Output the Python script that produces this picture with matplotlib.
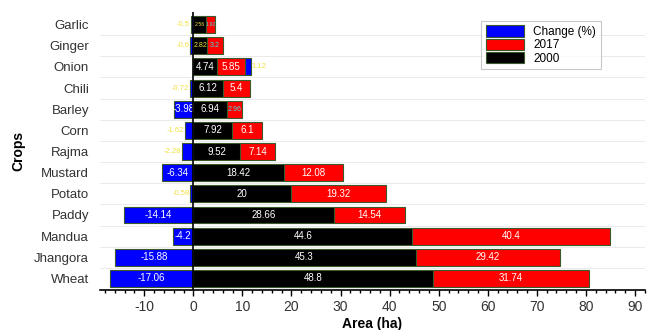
import numpy as np
import matplotlib
matplotlib.use("Agg")
from matplotlib import pyplot as plt
from matplotlib.ticker import MultipleLocator

plt.rcParams['font.family'] = ['Liberation Sans', 'DejaVu Sans']
plt.rcParams['axes.unicode_minus'] = False

crops = ["Wheat", "Jhangora", "Mandua", "Paddy", "Potato", "Mustard", "Rajma",
         "Corn", "Barley", "Chili", "Onion", "Ginger", "Garlic"]
change = [-17.06, -15.88, -4.2, -14.14, -0.58, -6.34, -2.28,
          -1.62, -3.98, -0.72, 1.12, -0.6, -0.5]
a2000 = [48.8, 45.3, 44.6, 28.66, 20, 18.42, 9.52,
         7.92, 6.94, 6.12, 4.74, 2.82, 2.56]
a2017 = [31.74, 29.42, 40.4, 14.54, 19.32, 12.08, 7.14,
         6.1, 2.96, 5.4, 5.85, 3.2, 1.92]

y = np.arange(len(crops))
change = np.array(change)
a2000 = np.array(a2000)
a2017 = np.array(a2017)

fig = plt.figure(figsize=(6.5, 3.3), dpi=100)
ax = fig.add_axes([0.154, 0.121, 0.838, 0.843])

h = 0.8
edge = "#3a5a2a"
# negative change goes left from 0, positive change sits after the 2017 part
chg_left = np.where(change < 0, change, a2000 + a2017)
chg_w = np.abs(change)
b_chg = ax.barh(y, chg_w, left=chg_left, height=h, color="#0000ff", edgecolor=edge, lw=0.8, label="Change (%)")
b17 = ax.barh(y, a2017, left=a2000, height=h, color="#ff0000", edgecolor=edge, lw=0.8, label="2017")
b00 = ax.barh(y, a2000, height=h, color="black", edgecolor=edge, lw=0.8, label="2000")

fs = 7
def lab_fs(w):
    # shrink labels on narrow bars
    if w > 3.5:
        return fs
    if w > 2.7:
        return 5
    return 3.8

for i in range(len(crops)):
    # change labels
    c = change[i]
    if abs(c) > 3:
        ax.text(chg_left[i] + chg_w[i] / 2, y[i], "%g" % c, color="white", fontsize=lab_fs(chg_w[i]), ha="center", va="center")
    elif c < 0:
        ax.text(chg_left[i] - 0.2, y[i], "%g" % c, color="#f0e040", fontsize=5.5, ha="right", va="center")
    else:
        ax.text(chg_left[i] + chg_w[i] + 0.2, y[i], "%g" % c, color="#f0e040", fontsize=5.5, ha="left", va="center")
    # 2000 labels
    col = "white" if a2000[i] > 4 else "#f0e040"
    ax.text(a2000[i] / 2, y[i], "%g" % a2000[i], color=col, fontsize=lab_fs(a2000[i]), ha="center", va="center")
    # 2017 labels
    col = "white" if a2017[i] > 3.5 else "#40e0e0"
    ax.text(a2000[i] + a2017[i] / 2, y[i], "%g" % a2017[i], color=col, fontsize=lab_fs(a2017[i]), ha="center", va="center")

ax.axvline(0, color="black", lw=1.2, zorder=5)

ax.set_xlim(-19, 92)
ax.set_ylim(-0.55, 12.6)
ax.set_yticks(y)
ax.set_yticklabels(crops, fontsize=9.5, color="#333333")
ax.tick_params(axis="y", length=0, pad=8)
ax.xaxis.set_major_locator(MultipleLocator(10))
ax.xaxis.set_minor_locator(MultipleLocator(2))
ax.tick_params(axis="x", which="major", length=4, width=1, labelsize=10, colors="black", labelcolor="#333333")
ax.tick_params(axis="x", which="minor", length=2.5, width=1)

for s in ["top", "right", "left"]:
    ax.spines[s].set_visible(False)
ax.spines["bottom"].set_linewidth(1.2)

for yy in y[:-1] + 0.5:
    ax.axhline(yy, color="#e6e6e6", lw=0.6, zorder=0)

ax.set_xlabel("Area (ha)", fontsize=10, fontweight="bold", labelpad=2)
ax.set_ylabel("Crops", fontsize=10, fontweight="bold", labelpad=6)

leg = ax.legend(handles=[b_chg, b17, b00], loc="upper right", bbox_to_anchor=(0.93, 0.99),
                fontsize=8.5, frameon=True, fancybox=False, edgecolor="#bbbbbb",
                handlelength=3.2, handleheight=1.1, labelspacing=0.05, borderpad=0.4)
leg.get_frame().set_linewidth(0.8)

fig.savefig("out.png", dpi=100)
